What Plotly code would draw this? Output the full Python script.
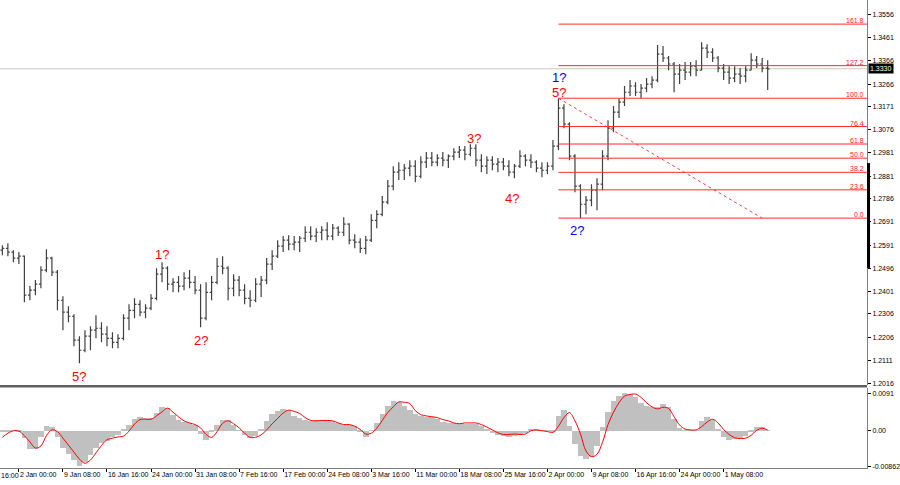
import plotly.graph_objects as go

# ---------------- data ----------------
opens = [1.2572,1.2580,1.2564,1.2539,1.2547,1.2384,1.2405,1.2430,1.2489,1.2539,
         1.2480,1.2363,1.2313,1.2296,1.2196,1.2154,1.2213,1.2238,1.2246,1.2221,
         1.2204,1.2187,1.2204,1.2288,1.2321,1.2346,1.2313,1.2330,1.2371,1.2472,
         1.2497,1.2430,1.2438,1.2422,1.2455,1.2438,1.2405,1.2288,1.2396,1.2438,
         1.2505,1.2497,1.2413,1.2447,1.2405,1.2371,1.2363,1.2430,1.2447,1.2514,
         1.2547,1.2589,1.2614,1.2597,1.2606,1.2622,1.2647,1.2631,1.2647,1.2656,
         1.2631,1.2664,1.2647,1.2681,1.2614,1.2606,1.2580,1.2614,1.2697,1.2722,
         1.2773,1.2840,1.2898,1.2906,1.2915,1.2923,1.2881,1.2940,1.2957,1.2940,
         1.2957,1.2948,1.2965,1.2982,1.2990,1.2973,1.2998,1.2948,1.2923,1.2948,
         1.2932,1.2940,1.2923,1.2898,1.2923,1.2965,1.2948,1.2940,1.2915,1.2906,
         1.2923,1.3007,1.3166,1.3099,1.2965,1.2840,1.2764,1.2781,1.2823,1.2848,
         1.2965,1.3082,1.3149,1.3191,1.3232,1.3258,1.3232,1.3249,1.3266,1.3283,
         1.3391,1.3375,1.3350,1.3308,1.3324,1.3316,1.3341,1.3324,1.3416,1.3400,
         1.3375,1.3333,1.3316,1.3291,1.3308,1.3299,1.3324,1.3366,1.3350,1.3333]
highs = [1.2593,1.2601,1.2572,1.2564,1.2550,1.2422,1.2447,1.2505,1.2576,1.2545,
         1.2489,1.2380,1.2338,1.2304,1.2213,1.2238,1.2254,1.2300,1.2271,1.2254,
         1.2229,1.2221,1.2304,1.2346,1.2371,1.2363,1.2346,1.2388,1.2497,1.2522,
         1.2505,1.2455,1.2464,1.2480,1.2489,1.2464,1.2430,1.2438,1.2464,1.2539,
         1.2547,1.2505,1.2472,1.2464,1.2430,1.2405,1.2455,1.2464,1.2539,1.2572,
         1.2614,1.2631,1.2635,1.2631,1.2631,1.2672,1.2672,1.2664,1.2672,1.2689,
         1.2681,1.2672,1.2710,1.2685,1.2639,1.2622,1.2631,1.2722,1.2739,1.2798,
         1.2865,1.2923,1.2940,1.2932,1.2948,1.2948,1.2965,1.2982,1.2982,1.2973,
         1.2982,1.2973,1.2998,1.3007,1.3007,1.3015,1.3015,1.2973,1.2965,1.2965,
         1.2957,1.2957,1.2948,1.2932,1.2990,1.2973,1.2973,1.2948,1.2940,1.2940,
         1.3032,1.3207,1.3182,1.3107,1.2973,1.2848,1.2798,1.2848,1.2873,1.2990,
         1.3115,1.3174,1.3207,1.3258,1.3283,1.3274,1.3266,1.3291,1.3299,1.3429,
         1.3425,1.3383,1.3358,1.3350,1.3358,1.3358,1.3366,1.3441,1.3433,1.3416,
         1.3383,1.3350,1.3341,1.3341,1.3333,1.3341,1.3395,1.3383,1.3375,1.3366]
lows = [1.2551,1.2547,1.2522,1.2514,1.2355,1.2363,1.2384,1.2413,1.2480,1.2464,
        1.2321,1.2238,1.2271,1.2171,1.2100,1.2146,1.2154,1.2204,1.2187,1.2171,
        1.2162,1.2162,1.2196,1.2238,1.2288,1.2296,1.2288,1.2321,1.2363,1.2438,
        1.2405,1.2396,1.2396,1.2405,1.2413,1.2388,1.2250,1.2279,1.2363,1.2430,
        1.2472,1.2363,1.2380,1.2380,1.2346,1.2334,1.2355,1.2376,1.2430,1.2489,
        1.2539,1.2564,1.2572,1.2572,1.2564,1.2606,1.2614,1.2606,1.2614,1.2614,
        1.2614,1.2631,1.2631,1.2597,1.2580,1.2560,1.2555,1.2606,1.2664,1.2714,
        1.2764,1.2823,1.2865,1.2865,1.2881,1.2856,1.2873,1.2915,1.2923,1.2923,
        1.2923,1.2915,1.2948,1.2957,1.2948,1.2965,1.2923,1.2898,1.2890,1.2906,
        1.2898,1.2906,1.2881,1.2873,1.2915,1.2923,1.2915,1.2898,1.2877,1.2890,
        1.2906,1.2990,1.3082,1.2948,1.2814,1.2706,1.2722,1.2756,1.2739,1.2823,
        1.2948,1.3065,1.3124,1.3174,1.3216,1.3216,1.3207,1.3232,1.3249,1.3274,
        1.3358,1.3324,1.3232,1.3266,1.3283,1.3299,1.3299,1.3324,1.3375,1.3358,
        1.3316,1.3283,1.3266,1.3274,1.3266,1.3274,1.3324,1.3333,1.3316,1.3241]
closes = [1.2580,1.2564,1.2539,1.2547,1.2384,1.2405,1.2430,1.2489,1.2539,1.2480,
          1.2363,1.2313,1.2296,1.2196,1.2154,1.2213,1.2238,1.2246,1.2221,1.2204,
          1.2187,1.2204,1.2288,1.2321,1.2346,1.2313,1.2330,1.2371,1.2472,1.2497,
          1.2430,1.2438,1.2422,1.2455,1.2438,1.2405,1.2288,1.2396,1.2438,1.2505,
          1.2497,1.2413,1.2447,1.2405,1.2371,1.2363,1.2430,1.2447,1.2514,1.2547,
          1.2589,1.2614,1.2597,1.2606,1.2622,1.2647,1.2631,1.2647,1.2656,1.2631,
          1.2664,1.2647,1.2681,1.2614,1.2606,1.2580,1.2614,1.2697,1.2722,1.2773,
          1.2840,1.2898,1.2906,1.2915,1.2923,1.2881,1.2940,1.2957,1.2940,1.2957,
          1.2948,1.2965,1.2982,1.2990,1.2973,1.2998,1.2948,1.2923,1.2948,1.2932,
          1.2940,1.2923,1.2898,1.2923,1.2965,1.2948,1.2940,1.2915,1.2906,1.2923,
          1.3007,1.3166,1.3099,1.2965,1.2840,1.2764,1.2781,1.2823,1.2848,1.2965,
          1.3082,1.3149,1.3191,1.3232,1.3258,1.3232,1.3249,1.3266,1.3283,1.3391,
          1.3375,1.3350,1.3308,1.3324,1.3316,1.3341,1.3324,1.3416,1.3400,1.3375,
          1.3333,1.3316,1.3291,1.3308,1.3299,1.3324,1.3366,1.3350,1.3333,1.3330]

macd_hist = [-0.0002,-0.0001,0.0001,-0.0002,-0.0018,-0.0045,-0.0045,-0.0015,0.0012,0.0008,
             -0.0016,-0.0041,-0.0057,-0.0071,-0.0085,-0.0075,-0.0058,-0.0041,-0.0030,-0.0024,
             -0.0016,-0.0010,0.0002,0.0015,0.0028,0.0034,0.0032,0.0030,0.0042,0.0057,
             0.0055,0.0039,0.0026,0.0022,0.0018,0.0015,-0.0008,-0.0023,-0.0004,0.0014,
             0.0026,0.0026,0.0014,0.0001,-0.0011,-0.0018,-0.0012,0.0004,0.0024,0.0041,
             0.0048,0.0053,0.0050,0.0036,0.0030,0.0026,0.0024,0.0026,0.0026,0.0024,
             0.0023,0.0018,0.0015,0.0014,0.0012,-0.0004,-0.0015,0.0001,0.0019,0.0041,
             0.0060,0.0073,0.0071,0.0061,0.0051,0.0041,0.0036,0.0034,0.0033,0.0028,
             0.0021,0.0020,0.0019,0.0016,0.0016,0.0016,0.0016,0.0012,0.0004,-0.0006,
             -0.0011,-0.0012,-0.0014,-0.0013,-0.0010,-0.0006,0.0004,0.0002,0.0001,0.0001,
             -0.0002,0.0036,0.0050,0.0012,-0.0032,-0.0061,-0.0069,-0.0063,-0.0036,0.0008,
             0.0045,0.0073,0.0085,0.0091,0.0089,0.0081,0.0068,0.0060,0.0057,0.0058,
             0.0066,0.0057,0.0028,0.0006,0.0001,0.0001,0.0001,0.0024,0.0034,0.0026,
             0.0004,-0.0015,-0.0023,-0.0021,-0.0017,-0.0012,-0.0002,0.0008,0.0008,0.0001]
macd_signal = [-0.0016,-0.0006,0.0000,-0.0001,-0.0012,-0.0027,-0.0042,-0.0037,-0.0012,0.0002,
               -0.0002,-0.0018,-0.0035,-0.0052,-0.0069,-0.0079,-0.0071,-0.0054,-0.0036,-0.0022,
               -0.0018,-0.0015,-0.0013,-0.0001,0.0016,0.0027,0.0028,0.0028,0.0036,0.0046,
               0.0055,0.0045,0.0034,0.0024,0.0019,0.0015,0.0007,-0.0009,-0.0016,-0.0002,
               0.0018,0.0024,0.0017,0.0007,-0.0006,-0.0016,-0.0016,-0.0010,0.0002,0.0017,
               0.0030,0.0043,0.0050,0.0047,0.0042,0.0032,0.0025,0.0024,0.0025,0.0025,
               0.0024,0.0019,0.0015,0.0015,0.0011,0.0003,-0.0008,-0.0006,0.0006,0.0025,
               0.0044,0.0058,0.0070,0.0069,0.0066,0.0049,0.0039,0.0036,0.0034,0.0032,
               0.0027,0.0024,0.0019,0.0017,0.0019,0.0019,0.0019,0.0015,0.0009,0.0002,
               -0.0005,-0.0009,-0.0009,-0.0008,-0.0009,-0.0008,0.0000,0.0002,0.0000,-0.0002,
               -0.0004,0.0011,0.0032,0.0044,0.0024,-0.0008,-0.0049,-0.0063,-0.0057,-0.0028,
               0.0015,0.0045,0.0068,0.0084,0.0088,0.0089,0.0081,0.0068,0.0058,0.0053,
               0.0057,0.0054,0.0034,0.0014,0.0004,0.0002,0.0002,0.0010,0.0021,0.0028,
               0.0019,0.0003,-0.0009,-0.0017,-0.0019,-0.0018,-0.0011,0.0001,0.0006,0.0002]

bars = list(range(len(closes)))

price_ticks = [1.3556, 1.3461, 1.3366, 1.3266, 1.3171, 1.3076, 1.2981, 1.2881, 1.2786,
               1.2691, 1.2591, 1.2496, 1.2401, 1.2306, 1.2206, 1.2111, 1.2016]
macd_ticks = [0.0091, 0.0, -0.00862]
macd_tick_text = ["0.0091", "0.00", "-0.00862"]

time_tick_bars = [3, 11, 19, 27, 35, 43, 51, 59, 67, 75, 83, 91, 99, 107, 115, 123, 131]
time_tick_text = ["2 Jan 00:00", "9 Jan 08:00", "16 Jan 16:00", "24 Jan 00:00", "31 Jan 08:00",
                  "7 Feb 16:00", "17 Feb 00:00", "24 Feb 08:00", "3 Mar 16:00", "11 Mar 00:00",
                  "18 Mar 08:00", "25 Mar 16:00", "2 Apr 00:00", "9 Apr 08:00", "16 Apr 16:00",
                  "24 Apr 00:00", "1 May 08:00"]

fib_ratios = [0.0, 23.6, 38.2, 50.0, 61.8, 76.4, 100.0, 127.2, 161.8]
fib_high_bar = 101
fib_low_bar = 105
fib_end_bar = 138

# wave labels: (text, colour, bar, attach to 'high'/'low', xshift, yshift)
wave_labels = [("5?", "red", 14, "low", 0, -13),
               ("1?", "red", 29, "high", 0, 8),
               ("2?", "red", 36, "low", 0, -13),
               ("3?", "red", 86, "high", -2, 6),
               ("4?", "red", 93, "low", -2, -20),
               ("1?", "blue", 101, "high", 1, 21),
               ("5?", "red", 101, "high", 1, 6),
               ("2?", "blue", 105, "low", -3, -12)]

# ---------------- layout constants ----------------
X_RANGE = [-0.43, 157.04]
Y_RANGE = [1.20089, 1.36174]
M_RANGE = [-0.00905, 0.01039]
FONT = "Liberation Sans"
AXIS_GREY = "#808080"

fig = go.Figure()

fig.add_trace(go.Ohlc(
    x=bars, open=opens, high=highs, low=lows, close=closes,
    xaxis="x", yaxis="y",
    increasing=dict(line=dict(color="#404040", width=1.2)),
    decreasing=dict(line=dict(color="#404040", width=1.2)),
    tickwidth=0.35, hoverinfo="skip"))

# fibonacci levels
fib_hi = highs[fib_high_bar]
fib_lo = lows[fib_low_bar]
shapes = []
annotations = []
for r in fib_ratios:
    lvl = fib_lo + (fib_hi - fib_lo) * r / 100.0
    shapes.append(dict(type="line", xref="x", yref="y", x0=fib_high_bar, x1=X_RANGE[1],
                       y0=lvl, y1=lvl, line=dict(color="#ff2b2b", width=1), layer="above"))
    annotations.append(dict(xref="paper", yref="y", x=1, y=lvl, text=f"{r:.1f}",
                            xanchor="right", yanchor="bottom", showarrow=False, xshift=-1, yshift=-2,
                            font=dict(family=FONT, size=7, color="#ff2020")))

# dotted trend line from the high to the 0.0 level
fig.add_trace(go.Scatter(x=[fib_high_bar, fib_end_bar], y=[fib_hi, fib_lo], mode="lines",
                         line=dict(color="#ff4040", width=1, dash="dot"),
                         xaxis="x", yaxis="y", hoverinfo="skip"))

# current price line
last = closes[-1]
shapes.append(dict(type="line", xref="paper", yref="y", x0=0, x1=1, y0=last, y1=last,
                   line=dict(color="#c8c8c8", width=1), layer="below"))
annotations.append(dict(xref="paper", yref="y", x=1, y=last, text=f"{last:.4f}",
                        xanchor="left", yanchor="middle", showarrow=False, xshift=1,
                        bgcolor="black", borderpad=1,
                        font=dict(family=FONT, size=7, color="white")))

# black marker bar on the price scale
shapes.append(dict(type="rect", xref="paper", yref="y", x0=1, x1=1.0035, y0=1.2498, y1=1.2936,
                   fillcolor="black", line=dict(width=0)))

# panel separator
shapes.append(dict(type="line", xref="paper", yref="paper", x0=0, x1=1, y0=0.1745, y1=0.1745,
                   line=dict(color="#606060", width=2.5)))

# wave labels
for txt, col, b, side, xs, ys in wave_labels:
    yv = highs[b] if side == "high" else lows[b]
    annotations.append(dict(xref="x", yref="y", x=b, y=yv, text=txt, showarrow=False,
                            xanchor="center", yanchor="middle", xshift=xs, yshift=ys,
                            font=dict(family=FONT, size=13, color=col)))

# partially visible first time label
annotations.append(dict(xref="paper", yref="paper", x=-0.0287, y=-0.017, text="23 Dec 16:00",
                        xanchor="left", yanchor="middle", showarrow=False,
                        font=dict(family=FONT, size=7, color="black")))

# MACD panel
fig.add_trace(go.Bar(x=bars, y=macd_hist, width=1.0, marker=dict(color="#c0c0c0", line=dict(width=0)),
                     xaxis="x2", yaxis="y2", hoverinfo="skip"))
fig.add_trace(go.Scatter(x=bars, y=macd_signal, mode="lines", line=dict(color="#ff0000", width=1, shape="spline"),
                         xaxis="x2", yaxis="y2", hoverinfo="skip"))

tickfont = dict(family=FONT, size=7, color="black")
fig.update_layout(
    width=900, height=485,
    margin=dict(l=0, r=28, t=0, b=17, pad=0),
    paper_bgcolor="white", plot_bgcolor="white",
    showlegend=False, bargap=0,
    shapes=shapes, annotations=annotations,
    xaxis=dict(domain=[0, 1], anchor="y", range=X_RANGE, showticklabels=False, showgrid=False,
               zeroline=False, showline=False, ticks="", rangeslider=dict(visible=False)),
    yaxis=dict(domain=[0.1774, 1], anchor="x", side="right", range=Y_RANGE,
               tickvals=price_ticks, ticktext=[f"{v:.4f}" for v in price_ticks],
               ticks="outside", ticklen=3, tickcolor="black", tickfont=tickfont,
               showline=True, linecolor=AXIS_GREY, linewidth=1, showgrid=False, zeroline=False),
    xaxis2=dict(domain=[0, 1], anchor="y2", range=X_RANGE, tickvals=time_tick_bars, ticktext=time_tick_text,
                ticks="outside", ticklen=3, tickcolor="black", tickfont=tickfont, tickangle=0,
                ticklabelposition="outside right", showline=True, linecolor=AXIS_GREY, linewidth=1,
                showgrid=False, zeroline=False),
    yaxis2=dict(domain=[0, 0.171], anchor="x2", side="right", range=M_RANGE,
                tickvals=macd_ticks, ticktext=macd_tick_text,
                ticks="outside", ticklen=3, tickcolor="black", tickfont=tickfont,
                showline=True, linecolor=AXIS_GREY, linewidth=1, showgrid=False, zeroline=False),
)

fig.write_html("out.html", config={"displayModeBar": False},
               post_script="document.body.style.margin='0';document.body.style.overflow='hidden';")
